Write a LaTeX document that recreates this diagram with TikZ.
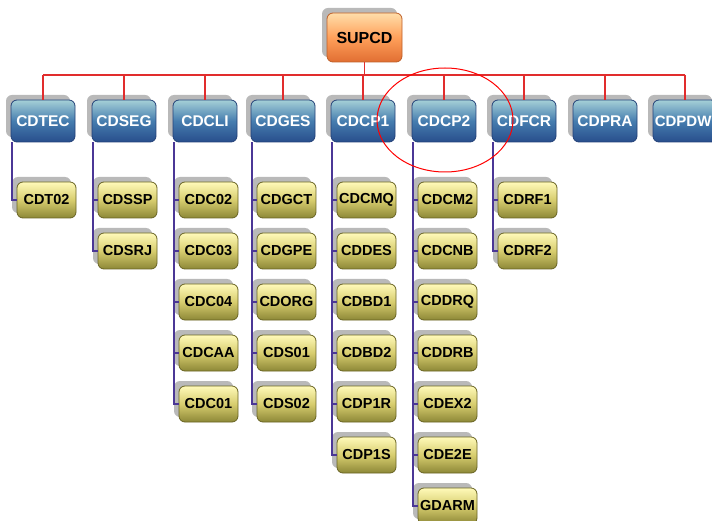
\documentclass[tikz,border=0pt]{standalone}
\usepackage{fontspec}
\setmainfont{Liberation Sans}
\usetikzlibrary{shadows}
\definecolor{suptop}{RGB}{255,222,170}
\definecolor{supmid}{RGB}{255,160,90}
\definecolor{supbot}{RGB}{225,110,50}
\definecolor{supline}{RGB}{190,95,40}
\definecolor{bltop}{RGB}{165,208,215}
\definecolor{blmid}{RGB}{70,125,175}
\definecolor{blbot}{RGB}{40,78,140}
\definecolor{blline}{RGB}{35,65,120}
\definecolor{yetop}{RGB}{255,250,185}
\definecolor{yemid}{RGB}{215,205,110}
\definecolor{yebot}{RGB}{140,135,55}
\definecolor{yeline}{RGB}{105,100,35}
\definecolor{busred}{RGB}{225,45,45}
\definecolor{purp}{RGB}{75,55,150}
\begin{document}
\begin{tikzpicture}[x=1pt,y=1pt,
  base/.style={rounded corners=6pt, line width=0.8pt, inner sep=0pt,
    general shadow={fill=gray!55, shadow xshift=-5pt, shadow yshift=5pt}},
  topbox/.style={base, draw=supline, minimum width=75pt, minimum height=49pt,
    top color=suptop, bottom color=supbot, middle color=supmid,
    text=black, font=\fontsize{16}{16}\selectfont\bfseries},
  lonebox/.style={base, draw=blline, minimum width=64pt, minimum height=42pt,
    top color=bltop, bottom color=blbot, middle color=blmid,
    text=white, font=\fontsize{15.5}{16}\selectfont\bfseries},
  ltwobox/.style={base, draw=yeline, minimum width=59pt, minimum height=36pt,
    top color=yetop, bottom color=yebot, middle color=yemid,
    text=black, font=\fontsize{14.5}{15}\selectfont\bfseries},
  redline/.style={draw=busred, line width=1.8pt},
  purpline/.style={draw=purp, line width=1.8pt}]
\useasboundingbox (0,0) rectangle (712,-521);
\clip (0,0) rectangle (712,-521);
\fill[white] (0,0) rectangle (712,-521);

\node[topbox] (sup) at (364.5,-37.5) {SUPCD};

\foreach \n/\t/\x in {tec/CDTEC/43, seg/CDSEG/124, cli/CDCLI/205, ges/CDGES/283,
  cpa/CDCP1/363, cpb/CDCP2/444, fcr/CDFCR/524, pra/CDPRA/605}
  \node[lonebox] (\n) at (\x,-121) {\t};
\node[lonebox] (pdw) at (685,-121) {};
\node[anchor=west, inner sep=0pt, text=white,
  font=\fontsize{15}{16}\selectfont\bfseries] (pdwtext) at ([xshift=2pt]pdw.west) {CDPDW};

\foreach \p/\lst in {tec/{CDT02}, seg/{CDSSP,CDSRJ},
   cli/{CDC02,CDC03,CDC04,CDCAA,CDC01},
   ges/{CDGCT,CDGPE,CDORG,CDS01,CDS02},
   cpa/{CDCMQ,CDDES,CDBD1,CDBD2,CDP1R,CDP1S},
   cpb/{CDCM2,CDCNB,CDDRQ,CDDRB,CDEX2,CDE2E,GDARM},
   fcr/{CDRF1,CDRF2}}{
  \foreach \c [count=\k from 0] in \lst
    \node[ltwobox] (\c) at ([shift={(3.5,-79-51*\k)}]\p.center) {\c};
}

% red bus
\coordinate (bus) at (364.5,-75);
\draw[redline] (sup.south) -- (bus);
\draw[redline] (bus -| tec.north) -- (bus -| pdw.north);
\foreach \n in {tec,seg,cli,ges,cpa,cpb,fcr,pra,pdw}
  \draw[redline] (bus -| \n.north) -- (\n.north);

% purple tree lines
\foreach \p/\lst in {tec/{CDT02}, seg/{CDSSP,CDSRJ},
   cli/{CDC02,CDC03,CDC04,CDCAA,CDC01},
   ges/{CDGCT,CDGPE,CDORG,CDS01,CDS02},
   cpa/{CDCMQ,CDDES,CDBD1,CDBD2,CDP1R,CDP1S},
   cpb/{CDCM2,CDCNB,CDDRQ,CDDRB,CDEX2,CDE2E,GDARM},
   fcr/{CDRF1,CDRF2}}{
  \foreach \c in \lst
    \draw[purpline] ([xshift=1.5pt]\p.south west) |- (\c.west);
}

% highlight ellipse
\draw[red, line width=1pt] (445,-120) ellipse [x radius=68, y radius=52];
\end{tikzpicture}
\end{document}
